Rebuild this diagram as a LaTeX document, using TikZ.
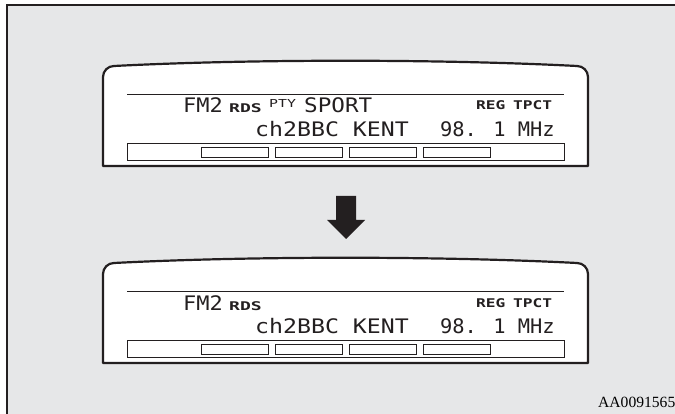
\documentclass[tikz,border=0pt]{standalone}
\usepackage{fontspec}
\setmainfont{Liberation Serif}
\newfontfamily\lcdfont{DejaVu Sans Mono}
\definecolor{panelgray}{HTML}{E6E7E8}
\definecolor{inkblack}{HTML}{231F20}
\tikzset{
  display/.style={draw=inkblack,line width=2.2pt,fill=white,line join=round},
  lcdline/.style={draw=inkblack,line width=0.8pt},
  lcdbig/.style={inner sep=0pt,anchor=base west,text=inkblack,font=\fontsize{20}{20}\selectfont\lcdfont},
  lcdsmall/.style={inner sep=0pt,anchor=base west,text=inkblack,font=\fontsize{12}{12}\selectfont\lcdfont\bfseries},
}
\newcommand{\wide}[2]{\scalebox{#1}[1]{#2}}

\begin{document}
\begin{tikzpicture}[x=1pt,y=-1pt]
\useasboundingbox (0,0) rectangle (675,414);
\fill[panelgray] (7,5) rectangle (675,414);
\draw[inkblack,line width=1.2pt] (7,414) -- (7,5) -- (675,5);
% the two displays
\foreach \dy/\n in {0/top,197/bot}{
\begin{scope}[yshift=-\dy pt]
\draw[display] (103,166) -- (103,77) to[out=90,in=180] (114,66)
  .. controls (250,59) and (441,59) .. (577,66) to[out=0,in=90] (588,77) -- (588,166) -- cycle;
\draw[lcdline] (127,94) -- (564,94);
\draw[lcdline] (127,143) rectangle (564,160);
\foreach \x in {201,275,349,423}
  \draw[lcdline] (\x,147) rectangle ++(67,10);
\node[lcdbig] (fm\n) at (183,113) {\wide{1.1}{FM2}};
\node[lcdsmall] (rds\n) at (229,113) {\wide{1.5}{RDS}};
\node[lcdsmall] (reg\n) at (476,110) {\wide{1.35}{REG}};
\node[lcdsmall] (tp\n) at (513,110) {\wide{1.35}{TPCT}};
\node[lcdbig] (ch\n) at (255,137) {\wide{1.16}{ch2BBC KENT}};
\node[lcdbig,anchor=base east] (freq\n) at (555,137) {\wide{1.02}{98. 1 MHz}};
\end{scope}}
\node[lcdsmall,font=\fontsize{11}{11}\selectfont\lcdfont] (pty) at (269,108) {\wide{1.35}{PTY}};
\node[lcdbig] (sport) at (304,113) {\wide{1.13}{SPORT}};
% arrow between the displays
\fill[inkblack] (336,196) -- (356,196) -- (356,220) -- (365,220) -- (346,239)
  -- (327,220) -- (336,220) -- cycle;
\node[inner sep=0pt,anchor=base west,font=\fontsize{15.6}{15.6}\selectfont] (code) at (598,407) {AA0091565};
\end{tikzpicture}
\end{document}
